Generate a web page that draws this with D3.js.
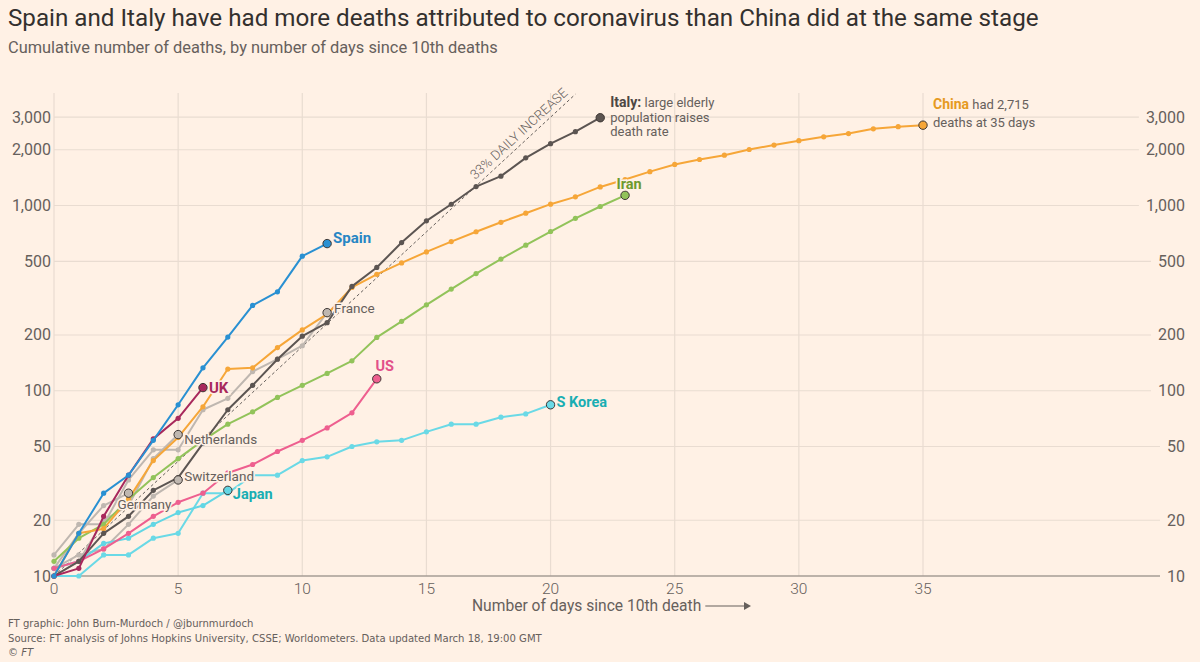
<!DOCTYPE html>
<html><head><meta charset="utf-8">
<script src="https://cdn.jsdelivr.net/npm/d3@7"></script>
<style>
body{margin:0;background:#fff1e5;}
svg{display:block;font-family:Roboto,"Open Sans",sans-serif;}
</style></head><body>
<svg id="chart" width="1200" height="662"></svg>
<script>
// ---------- DATA ----------
const yTicks = [10, 20, 50, 100, 200, 500, 1000, 2000, 3000];
const xTicks = [0, 5, 10, 15, 20, 25, 30, 35];
// cumulative deaths, index = days since 10th death
const spain       = [10, 17, 28, 35, 54, 84, 133, 195, 289, 342, 533, 623];
const uk          = [10, 11, 21, 35, 55, 71, 104];
const italy       = [10, 12, 17, 21, 29, 34, 52, 79, 107, 148, 197, 233, 366, 463, 631, 827, 1016, 1266, 1441, 1809, 2158, 2503, 2978];
const china       = [10, 17, 18, 26, 42, 56, 82, 131, 133, 171, 213, 259, 361, 425, 490, 562, 639, 722, 812, 909, 1017, 1114, 1260, 1381, 1524, 1666, 1772, 1870, 2006, 2121, 2239, 2348, 2445, 2595, 2666, 2715];
const iran        = [12, 16, 19, 26, 34, 43, 54, 66, 77, 92, 107, 124, 145, 194, 237, 291, 354, 429, 514, 611, 724, 853, 988, 1135];
const us          = [11, 12, 14, 17, 21, 25, 28, 36, 40, 47, 54, 63, 76, 116];
const japan       = [11, 12, 15, 16, 19, 22, 24, 29];
const sKorea      = [10, 10, 13, 13, 16, 17, 28, 28, 35, 35, 42, 44, 50, 53, 54, 60, 66, 66, 72, 75, 84];
const france      = [13, 19, 19, 33, 48, 48, 79, 91, 127, 148, 175, 264];
const germany     = [11, 17, 24, 28];
const netherlands = [10, 12, 20, 24, 43, 58];
const switzerland = [11, 13, 14, 19, 27, 33];
const trendRate = 1.33;   // 33% daily increase
const trendStart = 10;
const trendDays = [0, 21];

// ---------- STYLE / LAYOUT ----------
const W = 1200, H = 662;
const ink = "#33302e", grey = "#66605c", grid = "#e9dcd1";
const greyLine = "#bfb7b0";
const x = d3.scaleLinear().domain([0, 35]).range([54, 923]);
const y = d3.scaleLog().domain([10, 4050]).range([576, 93]);

const series = [
  {name: "Switzerland", values: switzerland, color: greyLine, label: [{t: "Switzerland"}], lc: grey, dx: 6, dy: -4, fs: 13.5, w: 400},
  {name: "Netherlands", values: netherlands, color: greyLine, label: [{t: "Netherlands"}], lc: grey, dx: 6, dy: 4, fs: 13.5, w: 400},
  {name: "Germany", values: germany, color: greyLine, label: [{t: "Germany"}], lc: grey, dx: -11, dy: 11, fs: 13.5, w: 400},
  {name: "France", values: france, color: greyLine, label: [{t: "France"}], lc: grey, dx: 7, dy: -5, fs: 13.5, w: 400},
  {name: "S Korea", values: sKorea, color: "#6ad9e6", label: [{t: "S Korea"}], lc: "#19aeb3", dx: 6, dy: -2, fs: 14.5, w: 700},
  {name: "Japan", values: japan, color: "#62d6e4", label: [{t: "Japan"}], lc: "#19aeb3", dx: 5, dy: 4, fs: 14.5, w: 700},
  {name: "US", values: us, color: "#ee5f8f", label: [{t: "US"}], lc: "#e2508a", dx: 8, dy: -12, fs: 14.5, w: 700, anchor: "middle"},
  {name: "Iran", values: iran, color: "#92c35a", label: [{t: "Iran"}], lc: "#6e9a2e", dx: 4, dy: -11, fs: 14.5, w: 700, anchor: "middle"},
  {name: "China", values: china, color: "#f6a638", lc: "#e69a22", dx: 10, fs: 13, w: 400,
     label: [{t: "China", b: true, c: "#e69a22", dy: -21, fs: 14}, {t: " had 2,715", dy: -21}, {t: "deaths at 35 days", dy: -3, nl: true}]},
  {name: "Italy", values: italy, color: "#5c5552", lc: grey, dx: 10, fs: 13, w: 400,
     label: [{t: "Italy:", b: true, c: "#4d4744", dy: -16, fs: 14}, {t: " large elderly", dy: -16}, {t: "population raises", dy: -1, nl: true}, {t: "death rate", dy: 13, nl: true}]},
  {name: "UK", values: uk, color: "#a8285c", label: [{t: "UK"}], lc: "#a8285c", dx: 6, dy: 0, fs: 15, w: 700},
  {name: "Spain", values: spain, color: "#2990d2", label: [{t: "Spain"}], lc: "#2786c4", dx: 6, dy: -6, fs: 15, w: 700},
];

const svg = d3.select("#chart");
svg.append("rect").attr("width", W).attr("height", H).attr("fill", "#fff1e5");

// title
svg.append("text").attr("x", 8).attr("y", 26).attr("fill", ink)
  .attr("font-size", 24.2).text("Spain and Italy have had more deaths attributed to coronavirus than China did at the same stage");
svg.append("text").attr("x", 8).attr("y", 53).attr("fill", grey)
  .attr("font-size", 16.4).text("Cumulative number of deaths, by number of days since 10th deaths");

// vertical grid
svg.append("g").selectAll("line").data(xTicks).join("line")
  .attr("x1", d => x(d)).attr("x2", d => x(d)).attr("y1", 93).attr("y2", 576)
  .attr("stroke", grid).attr("stroke-width", 1.2);

// y axis labels + horizontal grid
const gy = svg.append("g");
yTicks.forEach(t => {
  const yy = y(t);
  gy.append("text").attr("x", 51).attr("y", yy).attr("text-anchor", "end")
    .attr("dominant-baseline", "central").attr("fill", grey).attr("font-size", 16)
    .text(d3.format(",")(t));
  const rt = gy.append("text").attr("x", 1185).attr("y", yy).attr("text-anchor", "end")
    .attr("dominant-baseline", "central").attr("fill", grey).attr("font-size", 16)
    .text(d3.format(",")(t));
  const w = rt.node().getComputedTextLength();
  if (t !== 10) {
    gy.insert("line", ":first-child").attr("x1", 54).attr("x2", 1185 - w - 7).attr("y1", yy).attr("y2", yy)
      .attr("stroke", grid).attr("stroke-width", 1.2);
  } else {
    gy.append("line").attr("x1", 54).attr("x2", 1185 - w - 7).attr("y1", yy).attr("y2", yy)
      .attr("stroke", "#a69c94").attr("stroke-width", 1.6);
  }
});

// x axis tick labels
svg.append("g").selectAll("text").data(xTicks).join("text")
  .attr("x", d => x(d)).attr("y", 594).attr("text-anchor", "middle")
  .attr("fill", grey).attr("font-size", 15.5).attr("font-weight", 300).text(d => d);

// x axis title with arrow
const xt = svg.append("text").attr("x", 472).attr("y", 611).attr("fill", grey)
  .attr("font-size", 15.6).text("Number of days since 10th death");
const xtw = xt.node().getComputedTextLength();
const ax0 = 472 + xtw + 4;
svg.append("line").attr("x1", ax0).attr("x2", 745).attr("y1", 606).attr("y2", 606)
  .attr("stroke", grey).attr("stroke-width", 1.2);
svg.append("path").attr("d", "M744,602 L751,606 L744,610 Z").attr("fill", grey);

// trend line 33%
const trend = d3.range(trendDays[0], trendDays[1] + 0.001, 0.5).map(d => [d, trendStart * Math.pow(trendRate, d)]);
const lineGen = d3.line().x(d => x(d[0])).y(d => y(d[1]));
svg.append("path").datum(trend).attr("d", lineGen).attr("fill", "none")
  .attr("stroke", grey).attr("stroke-width", 1).attr("stroke-dasharray", "3,2.5");
{
  const d0 = 17.1;
  const px = x(d0), py = y(trendStart * Math.pow(trendRate, d0));
  const p2x = x(d0 + 1), p2y = y(trendStart * Math.pow(trendRate, d0 + 1));
  const ang = Math.atan2(p2y - py, p2x - px) * 180 / Math.PI;
  svg.append("text").attr("transform", `translate(${px},${py}) rotate(${ang}) translate(0,-5)`)
    .attr("fill", grey).attr("font-size", 13.2).attr("font-weight", 300).attr("letter-spacing", 0.1).text("33% DAILY INCREASE");
}

// series lines and points
const ptLine = d3.line().x((d, i) => x(i)).y(d => y(d));
const gs = svg.append("g");
series.forEach(s => {
  const g = gs.append("g");
  g.append("path").datum(s.values).attr("d", ptLine).attr("fill", "none")
    .attr("stroke", s.color).attr("stroke-width", 2).attr("stroke-linejoin", "round");
  g.selectAll("circle.pt").data(s.values.slice(0, -1)).join("circle").attr("class", "pt")
    .attr("cx", (d, i) => x(i)).attr("cy", d => y(d)).attr("r", 2.6).attr("fill", s.color);
});
// end markers
series.forEach(s => {
  const n = s.values.length - 1;
  gs.append("circle").attr("cx", x(n)).attr("cy", y(s.values[n])).attr("r", 4.2)
    .attr("fill", s.color).attr("stroke", "#3d3633").attr("stroke-width", 1);
});
// labels
series.forEach(s => {
  const n = s.values.length - 1;
  const ex = x(n), ey = y(s.values[n]);
  if (s.label.length === 1) {
    svg.append("text").attr("x", ex + s.dx).attr("y", ey + s.dy)
      .attr("dominant-baseline", "central").attr("text-anchor", s.anchor || "start")
      .attr("fill", s.lc).attr("font-size", s.fs).attr("font-weight", s.w)
      .style("paint-order", "stroke").attr("stroke", "#fff1e5").attr("stroke-width", 3)
      .text(s.label[0].t);
  } else {
    let cur = null;
    s.label.forEach(p => {
      if (!cur || p.nl) {
        cur = svg.append("text").attr("x", ex + s.dx).attr("y", ey + p.dy)
          .attr("dominant-baseline", "central").attr("font-size", s.fs).attr("fill", grey);
      }
      cur.append("tspan").text(p.t)
        .attr("font-weight", p.b ? 700 : 400).attr("fill", p.c || grey)
        .attr("font-size", p.fs || s.fs);
    });
  }
});

// footer
const foot = ["FT graphic: John Burn-Murdoch / @jburnmurdoch",
  "Source: FT analysis of Johns Hopkins University, CSSE; Worldometers. Data updated March 18, 19:00 GMT"];
const ff = "'Liberation Sans Narrow','DejaVu Sans Condensed',sans-serif";
svg.append("text").attr("x", 8).attr("y", 627).attr("fill", grey).attr("font-size", 11.2)
  .style("font-family", ff).text(foot[0]);
svg.append("text").attr("x", 8).attr("y", 642).attr("fill", grey).attr("font-size", 11.2)
  .style("font-family", ff).text(foot[1]);
svg.append("text").attr("x", 8).attr("y", 656).attr("fill", grey).attr("font-size", 11.2)
  .attr("font-style", "italic").style("font-family", ff).text("© FT");
</script></body></html>
